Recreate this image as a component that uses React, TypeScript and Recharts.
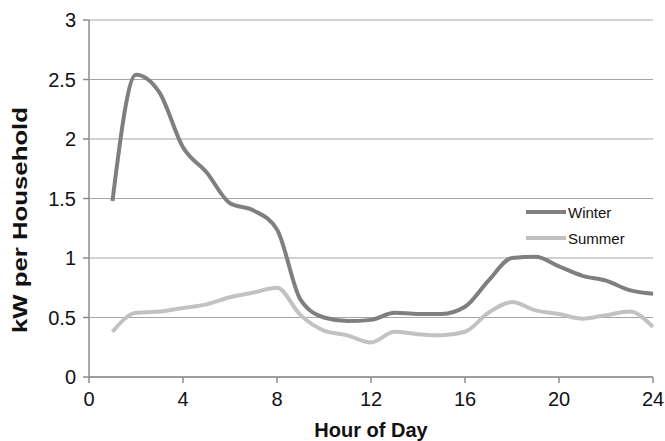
import React from 'react';
import { LineChart, Line, XAxis, YAxis, CartesianGrid, Label } from 'recharts';

const hours = [1, 2, 3, 4, 5, 6, 7, 8, 9, 10, 11, 12, 13, 14, 15, 16, 17, 18, 19, 20, 21, 22, 23, 24];
const winter = [1.48, 2.54, 2.39, 1.93, 1.72, 1.46, 1.4, 1.24, 0.65, 0.5, 0.47, 0.48, 0.54, 0.53, 0.53, 0.59, 0.81, 1.0, 1.01, 0.93, 0.85, 0.81, 0.73, 0.7];
const summer = [0.38, 0.54, 0.55, 0.58, 0.61, 0.67, 0.71, 0.75, 0.52, 0.39, 0.35, 0.29, 0.38, 0.36, 0.35, 0.38, 0.54, 0.63, 0.56, 0.53, 0.49, 0.52, 0.55, 0.42];
const xTicks = [0, 4, 8, 12, 16, 20, 24];
const yTicks = [0, 0.5, 1, 1.5, 2, 2.5, 3];

const series = [
  { key: 'Winter', color: '#7f7f7f' },
  { key: 'Summer', color: '#c2c2c2' },
];

const data = hours.map((h, i) => ({ hour: h, Winter: winter[i], Summer: summer[i] }));

const FONT = '"Liberation Sans", Arial, sans-serif';

// y title is a bit stretched in the original, so force its length
const YTitle = () => (
  <text
    x={0}
    y={0}
    transform="translate(27, 220) rotate(-90)"
    textAnchor="middle"
    textLength={226}
    lengthAdjust="spacingAndGlyphs"
    style={{ fontSize: 21, fontWeight: 'bold', fill: '#111', fontFamily: FONT }}
  >
    kW per Household
  </text>
);

export default function App() {
  return (
    <div style={{ position: 'absolute', left: 0, top: 0, width: 665, height: 441, background: '#fff' }}>
      <LineChart width={665} height={441} data={data} margin={{ top: 20, right: 12, left: 0, bottom: 0 }}>
        <CartesianGrid vertical={false} stroke="#a6a6a6" strokeWidth={1.2} />
        <XAxis
          dataKey="hour"
          type="number"
          domain={[0, 24]}
          ticks={xTicks}
          height={64}
          stroke="#8c8c8c"
          strokeWidth={1.5}
          tickSize={6}
          tickMargin={9}
          tick={{ fontSize: 20, fill: '#111', fontFamily: FONT }}
        >
          <Label value="Hour of Day" position="insideBottom" offset={4} style={{ fontSize: 20, fontWeight: 'bold', fill: '#111', fontFamily: FONT }} />
        </XAxis>
        <YAxis
          type="number"
          domain={[0, 3]}
          ticks={yTicks}
          width={89}
          stroke="#8c8c8c"
          strokeWidth={1.5}
          tickSize={6}
          tickMargin={7}
          tick={{ fontSize: 20, fill: '#111', fontFamily: FONT }}
        >
          <Label content={<YTitle />} />
        </YAxis>
        {series.map((s) => (
          <Line key={s.key} type="monotone" dataKey={s.key} stroke={s.color} strokeWidth={4} dot={false} isAnimationActive={false} />
        ))}
      </LineChart>
      <div style={{ position: 'absolute', left: 526, top: 199, fontFamily: FONT, fontSize: 15, color: '#111' }}>
        {series.map((s) => (
          <div key={s.key} style={{ display: 'flex', alignItems: 'center', height: 26 }}>
            <span style={{ display: 'inline-block', width: 40, height: 4, background: s.color, marginRight: 2 }} />
            <span>{s.key}</span>
          </div>
        ))}
      </div>
    </div>
  );
}
